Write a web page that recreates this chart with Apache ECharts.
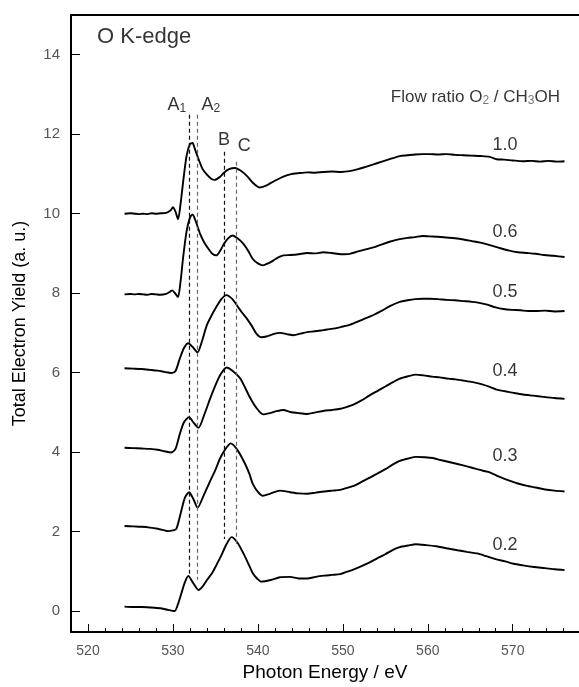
<!DOCTYPE html>
<html>
<head>
<meta charset="utf-8">
<script src="https://cdn.jsdelivr.net/npm/echarts@6/dist/echarts.min.js"></script>
<style>html,body{margin:0;padding:0;background:#fff}#c{width:579px;height:687px}</style>
</head>
<body>
<div id="c"></div>
<script>
// ---- data (eV, Total Electron Yield) ----
const xTicks = [520, 530, 540, 550, 560, 570];
const yTicks = [0, 2, 4, 6, 8, 10, 12, 14];

const ratio10 = [[524.3,10.00],[525.0,10.01],[525.5,10.00],[526.0,9.99],[526.5,10.00],[527.0,9.99],[527.5,10.01],[528.0,10.00],[528.5,10.01],[529.2,10.02],[529.7,10.08],[530.0,10.16],[530.3,10.05],[530.6,9.86],[530.9,10.25],[531.2,10.8],[531.6,11.45],[532.0,11.75],[532.3,11.78],[532.6,11.62],[533.0,11.38],[533.5,11.12],[534.0,10.98],[534.5,10.88],[534.9,10.85],[535.5,10.92],[536.0,11.03],[536.6,11.12],[537.3,11.15],[538.0,11.08],[538.7,10.95],[539.4,10.78],[540.2,10.66],[540.9,10.70],[541.6,10.78],[542.3,10.86],[543.0,10.93],[543.8,10.99],[544.8,11.02],[545.8,11.04],[546.7,11.03],[547.7,11.05],[548.7,11.06],[549.8,11.05],[550.8,11.07],[551.8,11.12],[552.7,11.18],[553.6,11.24],[554.6,11.31],[555.6,11.38],[556.7,11.45],[557.6,11.47],[558.5,11.49],[559.4,11.50],[560.2,11.50],[561.2,11.49],[562.2,11.50],[563.2,11.48],[564.2,11.47],[565.2,11.46],[566.2,11.45],[567.3,11.43],[568.1,11.37],[569.0,11.36],[570.0,11.34],[571.2,11.32],[572.2,11.33],[573.2,11.31],[574.2,11.33],[575.2,11.31],[576.1,11.32]];
const ratio06 = [[524.3,7.97],[525.0,7.98],[525.5,7.97],[526.0,7.98],[526.5,7.97],[527.0,7.96],[527.5,7.98],[528.0,7.97],[528.5,7.96],[529.2,7.98],[529.6,8.03],[529.9,8.07],[530.3,7.98],[530.6,7.90],[530.9,8.3],[531.2,8.9],[531.6,9.55],[532.0,9.9],[532.3,9.98],[532.7,9.80],[533.2,9.49],[533.7,9.27],[534.2,9.11],[534.6,9.00],[535.1,8.95],[535.6,9.08],[536.0,9.24],[536.5,9.38],[537.0,9.45],[537.6,9.38],[538.3,9.24],[538.9,9.05],[539.4,8.86],[540.0,8.75],[540.6,8.70],[541.2,8.75],[541.8,8.82],[542.4,8.90],[543.0,8.95],[543.8,8.96],[544.8,8.98],[545.8,9.01],[546.7,9.00],[547.7,9.03],[548.7,9.01],[549.8,8.98],[550.8,8.99],[551.8,9.05],[552.7,9.10],[553.6,9.15],[554.6,9.23],[555.6,9.30],[556.7,9.36],[557.6,9.39],[558.5,9.41],[559.4,9.44],[560.2,9.43],[561.2,9.42],[562.2,9.40],[563.2,9.38],[564.2,9.35],[565.2,9.31],[566.2,9.27],[567.3,9.21],[568.4,9.14],[569.6,9.07],[570.6,9.03],[571.7,9.01],[572.7,8.99],[573.7,8.96],[574.8,8.94],[576.1,8.91]];
const ratio05 = [[524.3,6.11],[525.3,6.10],[526.3,6.09],[527.3,6.07],[528.2,6.05],[529.0,6.02],[529.8,5.99],[530.3,6.04],[530.8,6.35],[531.3,6.62],[531.8,6.74],[532.3,6.65],[532.9,6.51],[533.4,6.78],[534.0,7.20],[534.5,7.42],[535.1,7.65],[535.7,7.85],[536.3,7.95],[537.0,7.85],[537.5,7.70],[538.1,7.52],[538.7,7.36],[539.3,7.17],[539.8,6.99],[540.4,6.89],[541.0,6.91],[541.8,6.97],[542.6,7.00],[543.4,6.97],[544.2,6.94],[545.0,6.98],[545.8,7.02],[546.7,7.04],[547.7,7.07],[548.7,7.10],[549.8,7.15],[550.8,7.20],[551.8,7.29],[552.7,7.37],[553.6,7.45],[554.6,7.56],[555.6,7.68],[556.7,7.78],[557.6,7.82],[558.5,7.85],[559.4,7.86],[560.2,7.86],[561.2,7.85],[562.2,7.83],[563.2,7.82],[564.2,7.80],[565.2,7.78],[566.2,7.75],[567.0,7.71],[568.0,7.64],[568.9,7.60],[569.9,7.58],[570.9,7.57],[571.8,7.55],[572.7,7.55],[573.8,7.56],[574.9,7.54],[576.1,7.55]];
const ratio04 = [[524.3,4.11],[525.3,4.10],[526.3,4.09],[527.3,4.08],[528.2,4.06],[529.0,4.02],[529.8,3.99],[530.3,4.08],[530.8,4.45],[531.3,4.75],[531.9,4.88],[532.4,4.75],[533.0,4.61],[533.7,4.95],[534.4,5.36],[535.0,5.68],[535.6,5.95],[536.3,6.13],[537.0,6.05],[537.9,5.86],[538.5,5.62],[539.1,5.36],[539.8,5.12],[540.6,4.95],[541.4,4.98],[542.2,5.03],[543.0,5.06],[543.8,5.01],[544.8,4.98],[545.8,4.96],[546.8,5.00],[547.8,5.04],[548.7,5.06],[549.7,5.09],[550.5,5.14],[551.3,5.20],[552.2,5.30],[553.1,5.42],[554.0,5.53],[555.0,5.65],[555.9,5.76],[556.7,5.85],[557.7,5.91],[558.6,5.95],[559.5,5.93],[560.5,5.90],[561.4,5.88],[562.4,5.85],[563.3,5.83],[564.2,5.80],[565.3,5.76],[566.5,5.70],[567.3,5.64],[568.1,5.57],[569.1,5.53],[570.1,5.49],[571.2,5.45],[572.4,5.42],[573.6,5.39],[574.9,5.36],[576.1,5.34]];
const ratio03 = [[524.3,2.14],[525.3,2.13],[526.3,2.12],[527.3,2.10],[528.2,2.07],[529.0,2.03],[529.4,2.01],[530.0,2.03],[530.4,2.07],[530.9,2.45],[531.4,2.85],[531.9,2.99],[532.4,2.82],[532.9,2.60],[533.6,2.90],[534.4,3.28],[535.0,3.55],[535.5,3.82],[536.1,4.05],[536.8,4.22],[537.6,4.05],[538.5,3.70],[539.0,3.45],[539.4,3.20],[540.0,3.00],[540.6,2.90],[541.4,2.95],[542.6,3.03],[543.8,2.99],[544.8,2.96],[545.8,2.95],[546.8,2.98],[547.8,3.01],[548.7,3.03],[549.7,3.05],[550.5,3.10],[551.3,3.15],[552.2,3.25],[553.1,3.35],[554.0,3.45],[555.0,3.57],[555.9,3.69],[556.7,3.78],[557.7,3.84],[558.6,3.88],[559.6,3.87],[560.6,3.85],[561.5,3.80],[562.5,3.75],[563.5,3.70],[564.6,3.64],[565.8,3.57],[566.5,3.53],[567.3,3.49],[568.4,3.38],[569.6,3.28],[570.6,3.21],[571.7,3.15],[572.7,3.11],[573.8,3.06],[574.9,3.03],[576.1,3.01]];
const ratio02 = [[524.3,0.11],[525.3,0.10],[526.3,0.10],[527.3,0.09],[528.5,0.07],[529.4,0.03],[530.2,0.00],[530.6,0.18],[531.0,0.45],[531.4,0.72],[531.8,0.88],[532.4,0.70],[533.0,0.53],[533.5,0.62],[534.0,0.78],[534.6,0.95],[535.1,1.15],[535.7,1.40],[536.3,1.68],[536.9,1.86],[537.6,1.72],[538.3,1.45],[538.9,1.18],[539.4,0.95],[539.9,0.82],[540.4,0.74],[541.5,0.78],[542.6,0.85],[543.8,0.86],[544.8,0.82],[545.8,0.82],[546.8,0.86],[547.8,0.89],[548.7,0.91],[549.7,0.93],[550.5,0.99],[551.3,1.05],[552.2,1.13],[553.1,1.22],[554.0,1.32],[555.0,1.43],[555.9,1.54],[556.7,1.61],[557.7,1.65],[558.6,1.68],[559.8,1.66],[561.0,1.63],[562.2,1.58],[563.5,1.53],[564.6,1.49],[565.8,1.45],[566.9,1.38],[568.1,1.30],[569.1,1.25],[570.1,1.19],[571.2,1.15],[572.5,1.11],[573.8,1.08],[575.0,1.05],[576.1,1.03]];

// ratio labels: [eV, y, text]
const ratioLabels = [[569.1,11.74,'1.0'],[569.1,9.54,'0.6'],[569.1,8.04,'0.5'],[569.1,6.04,'0.4'],[569.1,3.91,'0.3'],[569.1,1.66,'0.2']];
// reference dashed lines: name, eV, yTop, yBottom
const refNames = ['A1','A2','B','C'];
const refEnergy = [531.9, 532.9, 536.0, 537.4];
const refTop = [12.49, 12.49, 11.56, 11.31];
const refBottom = [0.91, 0.79, 1.81, 1.61];
const refColors = ['#111','#666','#111','#666'];
// peak annotation labels
const peakLabels = [[530.47,12.74,'A{s|1}'],[534.47,12.74,'A{s|2}'],[536.0,11.86,'B'],[538.4,11.69,'C']];
const titleLabels = [[521.0,14.44,'O K-edge'],[565.6,12.94,'Flow ratio O{s|2} / CH{s|3}OH']];

const FONT = 'Liberation Sans, Arial, Helvetica, sans-serif';
const chart = echarts.init(document.getElementById('c'), null, {renderer:'canvas'});

const curves = [ratio10, ratio06, ratio05, ratio04, ratio03, ratio02];
const series = curves.map(d => ({
  type:'line', data:d, xAxisIndex:0, yAxisIndex:0, showSymbol:false, symbol:'none',
  smooth:0.25, lineStyle:{color:'#000', width:1.9}, silent:true, z:3
}));

series.push({
  type:'line', data:[], xAxisIndex:0, yAxisIndex:0, silent:true,
  markLine:{
    symbol:['none','none'], silent:true, label:{show:false},
    data: refNames.map((n,i)=>[
      {coord:[refEnergy[i], refTop[i]], lineStyle:{color:refColors[i], width:1.2, type:[4,3]}},
      {coord:[refEnergy[i], refBottom[i]]}
    ])
  }
});

const rich = {s:{fontSize:12, fontFamily:FONT, color:'#000', padding:[8,0,0,0]}};
series.push({
  type:'scatter', data:ratioLabels, symbolSize:1, itemStyle:{color:'rgba(0,0,0,0)'}, silent:true,
  label:{show:true, position:'inside', formatter:p=>p.value[2], fontSize:18, fontFamily:FONT, color:'#000'}
});
series.push({
  type:'scatter', data:peakLabels, symbolSize:1, itemStyle:{color:'rgba(0,0,0,0)'}, silent:true,
  label:{show:true, position:'inside', formatter:p=>p.value[2], fontSize:18, fontFamily:FONT, color:'#000', rich}
});
series.push({
  type:'scatter', data:[titleLabels[0]], symbolSize:1, itemStyle:{color:'rgba(0,0,0,0)'}, silent:true,
  label:{show:true, position:'right', distance:0, formatter:p=>p.value[2], fontSize:22, fontFamily:FONT, color:'#000'}
});
series.push({
  type:'scatter', data:[titleLabels[1]], symbolSize:1, itemStyle:{color:'rgba(0,0,0,0)'}, silent:true,
  label:{show:true, position:'inside', formatter:p=>p.value[2], fontSize:17, fontFamily:FONT, color:'#000', rich:{s:{fontSize:12, fontFamily:FONT, color:'#555', padding:[7,0,0,0]}}}
});

const xMin = 518, xMax = 577.8, yMin = -0.53, yMax = 15;
chart.setOption({
  animation:false,
  backgroundColor:'#fff',
  grid:{left:71, right:0, top:15, bottom:51, containLabel:false},
  xAxis:[
    {type:'value', min:xMin, max:xMax, interval:2, position:'bottom',
     name:'Photon Energy / eV', nameLocation:'middle', nameGap:28,
     nameTextStyle:{fontSize:19, fontFamily:FONT, color:'#000'},
     axisLine:{show:true, onZero:false, lineStyle:{color:'#000', width:2}},
     axisTick:{show:true, inside:true, length:4, lineStyle:{color:'#000', width:1}},
     axisLabel:{show:true, customValues:xTicks, margin:12, fontSize:14, fontFamily:FONT, color:'#555'},
     splitLine:{show:false}},
    {type:'value', min:xMin, max:xMax, position:'bottom',
     axisLine:{show:false, onZero:false},
     axisTick:{show:true, inside:true, length:8, customValues:xTicks, lineStyle:{color:'#000', width:1}},
     axisLabel:{show:false}, splitLine:{show:false}},
    {type:'value', min:xMin, max:xMax, position:'top',
     axisLine:{show:true, onZero:false, lineStyle:{color:'#000', width:2}},
     axisTick:{show:false}, axisLabel:{show:false}, splitLine:{show:false}}
  ],
  yAxis:[
    {type:'value', min:yMin, max:yMax, position:'left',
     name:'Total Electron Yield (a. u.)', nameLocation:'middle', nameGap:42, nameRotate:90,
     nameTextStyle:{fontSize:18, fontFamily:FONT, color:'#000'},
     axisLine:{show:true, onZero:false, lineStyle:{color:'#000', width:2}},
     axisTick:{show:true, inside:true, length:9, customValues:yTicks, lineStyle:{color:'#000', width:1}},
     axisLabel:{show:true, customValues:yTicks, margin:11, fontSize:15, fontFamily:FONT, color:'#555'},
     splitLine:{show:false}}
  ],
  series
});
</script>
</body>
</html>
